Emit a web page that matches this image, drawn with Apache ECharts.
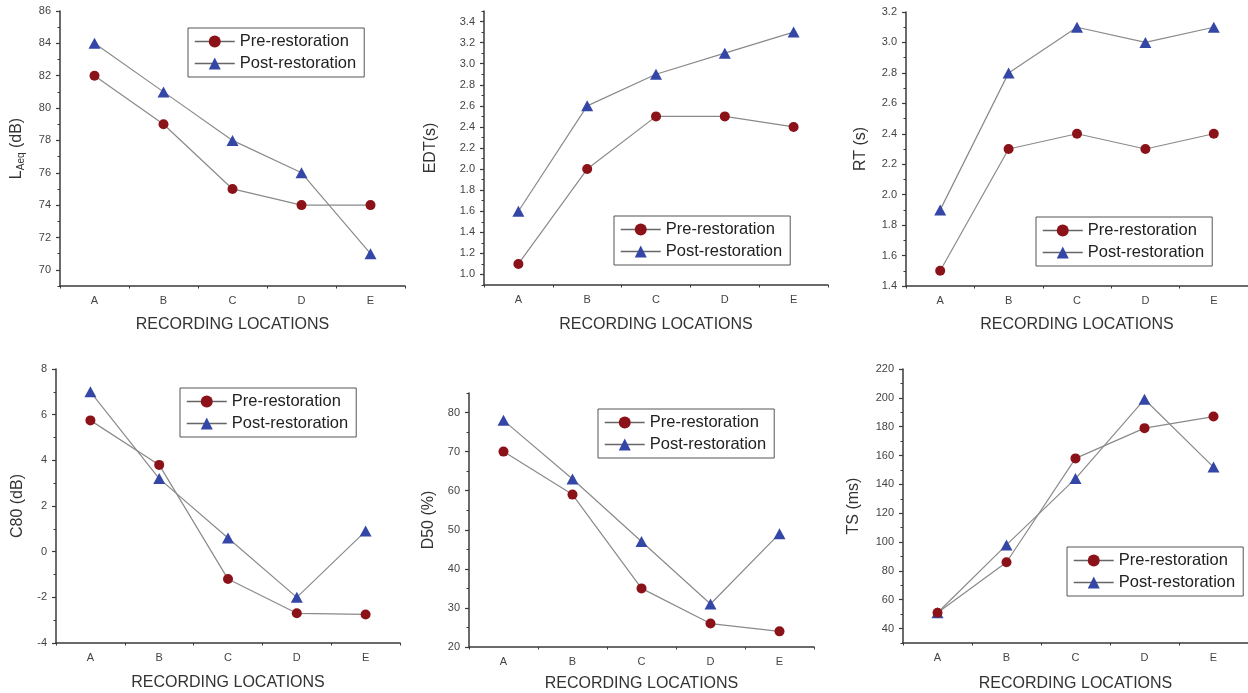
<!DOCTYPE html>
<html>
<head>
<meta charset="utf-8">
<script src="https://cdn.jsdelivr.net/npm/echarts@6/dist/echarts.min.js"></script>
<style>
html,body{margin:0;padding:0;background:#fff;}
#chart{width:1248px;height:693px;}
</style>
</head>
<body>
<div id="chart"></div>
<script>
// ---- data ----
const categories = ['A', 'B', 'C', 'D', 'E'];
const seriesNames = ['Pre-restoration', 'Post-restoration'];

const laeqPre  = [82, 79, 75, 74, 74];
const laeqPost = [84, 81, 78, 76, 71];
const edtPre   = [1.1, 2.0, 2.5, 2.5, 2.4];
const edtPost  = [1.6, 2.6, 2.9, 3.1, 3.3];
const rtPre    = [1.5, 2.3, 2.4, 2.3, 2.4];
const rtPost   = [1.9, 2.8, 3.1, 3.0, 3.1];
const c80Pre   = [5.75, 3.8, -1.2, -2.7, -2.75];
const c80Post  = [7.0, 3.2, 0.6, -2.0, 0.9];
const d50Pre   = [70, 59, 35, 26, 24];
const d50Post  = [78, 63, 47, 31, 49];
const tsPre    = [51, 86, 158, 179, 187];
const tsPost   = [51, 98, 144, 199, 152];

// tick labels
const laeqTicks = [70, 72, 74, 76, 78, 80, 82, 84, 86];
const edtTicks  = [1.0, 1.2, 1.4, 1.6, 1.8, 2.0, 2.2, 2.4, 2.6, 2.8, 3.0, 3.2, 3.4];
const rtTicks   = [1.4, 1.6, 1.8, 2.0, 2.2, 2.4, 2.6, 2.8, 3.0, 3.2];
const c80Ticks  = [-4, -2, 0, 2, 4, 6, 8];
const d50Ticks  = [20, 30, 40, 50, 60, 70, 80];
const tsTicks   = [40, 60, 80, 100, 120, 140, 160, 180, 200, 220];

// ---- panel layout ----
const panels = [
  {pre: laeqPre, post: laeqPost, ticks: laeqTicks, min: 69, max: 86, dec: 0,
   name: '{a|L}{s|Aeq}{a| (dB)}', grid: {left: 60, top: 11, width: 345, height: 275},
   yGap: 34, xGap: 31, legend: {left: 188, top: 28}},
  {pre: edtPre, post: edtPost, ticks: edtTicks, min: 0.9, max: 3.5, dec: 1,
   name: '{a|EDT(s)}', grid: {left: 484, top: 11, width: 344, height: 274},
   yGap: 45, xGap: 32, legend: {left: 614, top: 216}},
  {pre: rtPre, post: rtPost, ticks: rtTicks, min: 1.4, max: 3.2, dec: 1,
   name: '{a|RT (s)}', grid: {left: 906, top: 12, width: 342, height: 274},
   yGap: 37, xGap: 31, legend: {left: 1036, top: 217}},
  {pre: c80Pre, post: c80Post, ticks: c80Ticks, min: -4, max: 8, dec: 0,
   name: '{a|C80 (dB)}', grid: {left: 56, top: 369, width: 344, height: 274},
   yGap: 30, xGap: 32, legend: {left: 180, top: 388}},
  {pre: d50Pre, post: d50Post, ticks: d50Ticks, min: 20, max: 85, dec: 0,
   name: '{a|D50 (%)}', grid: {left: 469, top: 393, width: 345, height: 255},
   yGap: 32, xGap: 29, legend: {left: 598, top: 409}},
  {pre: tsPre, post: tsPost, ticks: tsTicks, min: 30, max: 220, dec: 0,
   name: '{a|TS (ms)}', grid: {left: 903, top: 369, width: 345, height: 274},
   yGap: 41, xGap: 33, legend: {left: 1067, top: 547}}
];

const FONT = "'Liberation Sans', Arial, sans-serif";
const AXIS_COLOR = '#3a3a3a';
const LABEL_COLOR = '#444';
const PRE_COLOR = '#8c1219';
const POST_COLOR = '#3547a6';
const LINE_COLOR = '#8a8a8a';

function minorTicks(t, min, max) {
  const step = t[1] - t[0];
  const out = [];
  const first = t[0] - step / 2;
  if (first >= min - 1e-9) out.push(first);
  t.forEach(v => { const m = v + step / 2; if (m <= max + 1e-9) out.push(m); });
  return out;
}

const grids = [], xAxes = [], yAxes = [], series = [], legends = [];

panels.forEach((p, i) => {
  grids.push(Object.assign({}, p.grid));
  // main x axis
  xAxes.push({
    type: 'category', gridIndex: i, data: categories, position: 'bottom',
    boundaryGap: true,
    name: 'RECORDING LOCATIONS', nameLocation: 'middle', nameGap: p.xGap,
    nameTextStyle: {fontSize: 16, color: '#333', fontFamily: FONT},
    axisLine: {onZero: false, lineStyle: {color: AXIS_COLOR, width: 1.5}},
    axisTick: {alignWithLabel: true, length: 4, lineStyle: {color: AXIS_COLOR, width: 1.2}},
    axisLabel: {fontSize: 11, color: LABEL_COLOR, margin: 9, fontFamily: FONT},
    splitLine: {show: false}
  });
  // minor x ticks (between categories)
  xAxes.push({
    type: 'category', gridIndex: i, data: categories, position: 'bottom',
    boundaryGap: true,
    axisLine: {show: false, onZero: false},
    axisTick: {show: true, alignWithLabel: false, length: 2.5, lineStyle: {color: AXIS_COLOR, width: 1}},
    axisLabel: {show: false},
    splitLine: {show: false}
  });
  // main y axis
  yAxes.push({
    type: 'value', gridIndex: i, position: 'left', min: p.min, max: p.max,
    name: p.name, nameLocation: 'middle', nameGap: p.yGap,
    nameTextStyle: {
      color: '#333', fontFamily: FONT,
      rich: {
        a: {fontSize: 16, color: '#333', fontFamily: FONT},
        s: {fontSize: 10, color: '#333', fontFamily: FONT, verticalAlign: 'bottom', padding: [8, 0, 0, 0]}
      }
    },
    axisLine: {show: true, onZero: false, lineStyle: {color: AXIS_COLOR, width: 1.5}},
    axisTick: {show: true, length: 4, customValues: p.ticks, lineStyle: {color: AXIS_COLOR, width: 1.2}},
    axisLabel: {
      customValues: p.ticks, fontSize: 11, color: LABEL_COLOR, margin: 9, fontFamily: FONT,
      formatter: (v => Number(v).toFixed(p.dec))
    },
    splitLine: {show: false}
  });
  // minor y ticks
  yAxes.push({
    type: 'value', gridIndex: i, position: 'left', min: p.min, max: p.max,
    axisLine: {show: false, onZero: false},
    axisTick: {show: true, length: 2.5, customValues: minorTicks(p.ticks, p.min, p.max), lineStyle: {color: AXIS_COLOR, width: 1}},
    axisLabel: {show: false},
    splitLine: {show: false}
  });
  series.push({
    name: seriesNames[0], type: 'line', xAxisIndex: 2 * i, yAxisIndex: 2 * i,
    data: p.pre, symbol: 'circle', symbolSize: 10,
    itemStyle: {color: PRE_COLOR},
    lineStyle: {color: LINE_COLOR, width: 1.2},
    z: 3
  });
  series.push({
    name: seriesNames[1], type: 'line', xAxisIndex: 2 * i, yAxisIndex: 2 * i,
    data: p.post, symbol: 'triangle', symbolSize: [12, 11],
    itemStyle: {color: POST_COLOR},
    lineStyle: {color: LINE_COLOR, width: 1.2},
    z: 2
  });
  legends.push({
    data: seriesNames, orient: 'vertical', left: p.legend.left, top: p.legend.top,
    borderColor: '#555', borderWidth: 1, padding: [5, 8, 5, 6], itemGap: 5,
    itemWidth: 40, itemHeight: 15, selectedMode: false,
    lineStyle: {color: '#666', width: 1.5},
    textStyle: {fontSize: 16.5, color: '#222', fontFamily: FONT}
  });
});

const chart = echarts.init(document.getElementById('chart'), null, {renderer: 'canvas'});
chart.setOption({
  animation: false,
  backgroundColor: '#fff',
  grid: grids,
  xAxis: xAxes,
  yAxis: yAxes,
  legend: legends,
  series: series
});
</script>
</body>
</html>
